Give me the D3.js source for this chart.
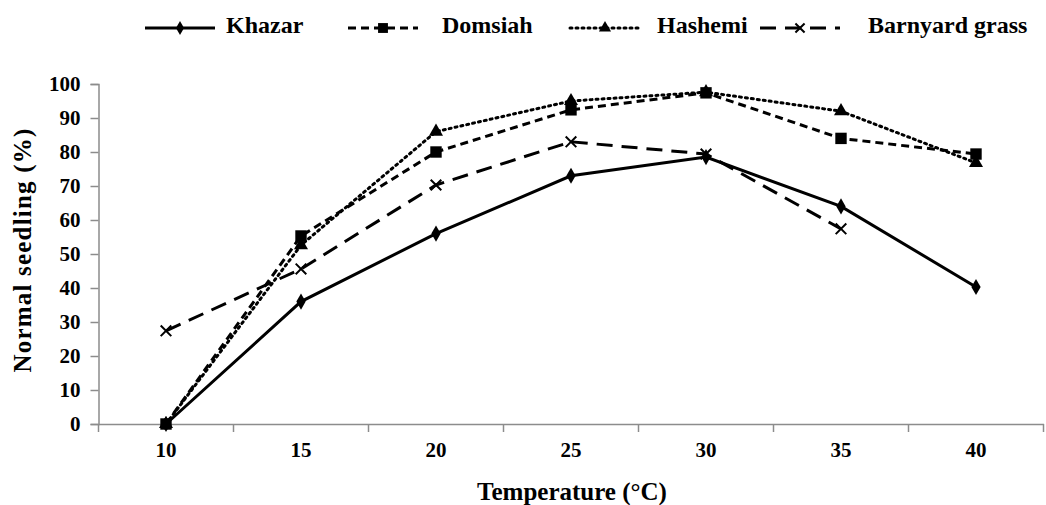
<!DOCTYPE html>
<html><head><meta charset="utf-8">
<script src="https://cdn.jsdelivr.net/npm/d3@7"></script>
<style>body{margin:0;background:#fff}svg{display:block}</style>
</head><body>
<svg id="c" width="1046" height="505"></svg>
<script>
const categories = ["10","15","20","25","30","35","40"];
const khazar = [0, 36, 56, 73, 78.5, 64, 40.3];
const domsiah = [0, 55.3, 80, 92.4, 97.4, 84, 79.4];
const hashemi = [0, 52.6, 86, 95, 97.6, 92, 76.8];
const barnyard = [27.4, 45.6, 70.3, 83, 79.4, 57.4, null];
const yTicks = [0,10,20,30,40,50,60,70,80,90,100];
const seriesNames = ["Khazar","Domsiah","Hashemi","Barnyard grass"];

(function(){
const svg = d3.select("#c");
const font = "'Liberation Serif','Times New Roman',serif";
const mL = 98.5, mR = 1043.5, mT = 84, mB = 424;
const x = d3.scaleBand().domain(categories).range([mL, mR]);
const y = d3.scaleLinear().domain([0,100]).range([mB, mT]);

const ya = svg.append("g").attr("transform",`translate(${mL},0)`)
  .call(d3.axisLeft(y).tickValues(yTicks).tickSize(8).tickPadding(10));
ya.select(".domain").attr("stroke","#8c8c8c").attr("stroke-width",1.5);
ya.selectAll(".tick line").attr("stroke","#8c8c8c").attr("stroke-width",1.5);
ya.selectAll("text").attr("font-family",font).attr("font-weight","bold").attr("font-size",21).attr("fill","#000");

const xa = svg.append("g").attr("transform",`translate(0,${mB})`)
  .call(d3.axisBottom(x).tickSize(0).tickPadding(18));
xa.select(".domain").attr("stroke","#8c8c8c").attr("stroke-width",1.5);
xa.selectAll("text").attr("font-family",font).attr("font-weight","bold").attr("font-size",21).attr("fill","#000");
const bounds = categories.map(c => x(c)).concat([x(categories[categories.length-1]) + x.bandwidth()]);
svg.append("g").selectAll("line").data(bounds).join("line")
  .attr("x1",d=>d).attr("x2",d=>d).attr("y1",mB).attr("y2",mB+8)
  .attr("stroke","#8c8c8c").attr("stroke-width",1.5);

svg.append("text").attr("x",572).attr("y",500).attr("text-anchor","middle")
  .attr("font-family",font).attr("font-weight","bold").attr("font-size",25).text("Temperature (\u00B0C)");
svg.append("text").attr("transform",`translate(31,250) rotate(-90)`).attr("text-anchor","middle")
  .attr("font-family",font).attr("font-weight","bold").attr("font-size",25)
  .attr("letter-spacing",1.2).text("Normal seedling (%)");

const series = [
  {name:seriesNames[0], data:khazar, dash:null, sym:d3.symbolDiamond, size:75},
  {name:seriesNames[1], data:domsiah, dash:"8,5", sym:d3.symbolSquare, size:130},
  {name:seriesNames[2], data:hashemi, dash:"2,4", sym:d3.symbolTriangle, size:85},
  {name:seriesNames[3], data:barnyard, dash:"16,9", sym:d3.symbolX, size:75}
];
const cx = c => x(c) + x.bandwidth()/2;
const line = d3.line().defined(d => d.v != null).x(d => cx(d.c)).y(d => y(d.v));

series.forEach(s => {
  const pts = categories.map((c,i) => ({c, v:s.data[i]}));
  svg.append("path").datum(pts).attr("d",line).attr("fill","none").attr("stroke","#000")
    .attr("stroke-width",3).attr("stroke-dasharray",s.dash)
    .attr("stroke-linecap", s.name==="Hashemi" ? "round" : "butt");
  svg.append("g").selectAll("path").data(pts.filter(d=>d.v!=null)).join("path")
    .attr("transform",d=>`translate(${cx(d.c)},${y(d.v)})`)
    .attr("d",d3.symbol(s.sym, s.size))
    .attr("fill", s.sym===d3.symbolX ? "none" : "#000")
    .attr("stroke","#000").attr("stroke-width", s.sym===d3.symbolX ? 2 : 0);
});

const legX = [145, 348, 570, 760];
const legLen = [70, 70, 70, 80];
const legT = [226, 442, 657, 868];
series.forEach((s,i) => {
  const g = svg.append("g");
  const x0 = legX[i], x1 = legX[i]+legLen[i], yy = 28;
  g.append("line").attr("x1",x0).attr("x2",x1).attr("y1",yy).attr("y2",yy)
    .attr("stroke","#000").attr("stroke-width",3).attr("stroke-dasharray",s.dash)
    .attr("stroke-linecap", s.name==="Hashemi" ? "round" : "butt");
  g.append("path").attr("transform",`translate(${(x0+x1)/2},${yy})`)
    .attr("d",d3.symbol(s.sym, s.size*0.75))
    .attr("fill", s.sym===d3.symbolX ? "none" : "#000")
    .attr("stroke","#000").attr("stroke-width", s.sym===d3.symbolX ? 2 : 0);
  g.append("text").attr("x",legT[i]).attr("y",33).attr("font-family",font)
    .attr("font-weight","bold").attr("font-size",24).text(s.name);
});
})();
</script>
</body></html>
